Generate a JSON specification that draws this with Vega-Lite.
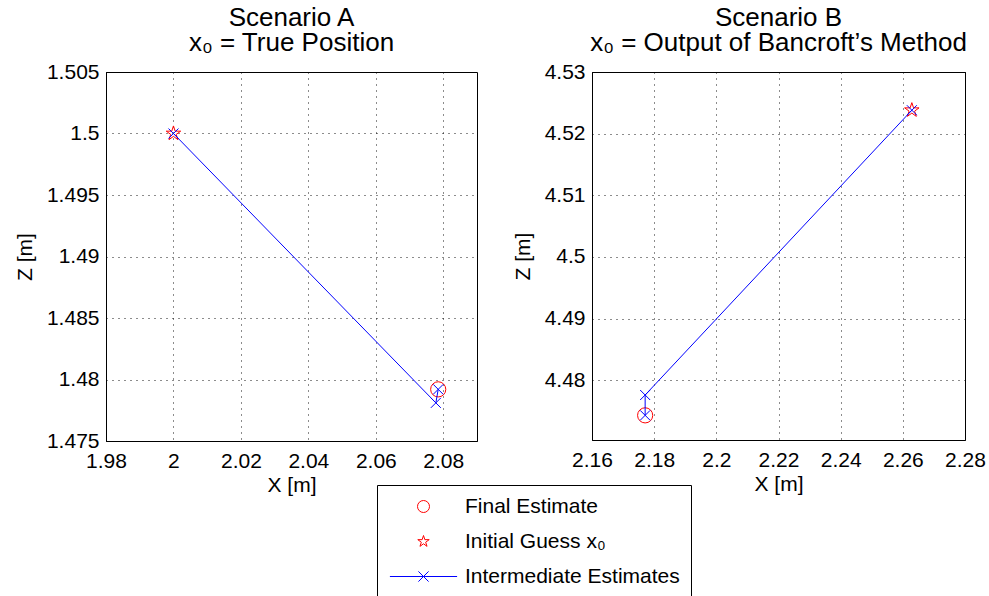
{
  "$schema": "https://vega.github.io/schema/vega-lite/v6.json",
  "background": "white",
  "padding": {"left": 13, "top": 4, "right": 5, "bottom": 0},
  "spacing": 33,
  "config": {
    "font": "Liberation Sans",
    "view": {"stroke": "black", "strokeWidth": 1},
    "axis": {
      "labelFont": "Liberation Sans", "labelFontSize": 21, "labelColor": "black",
      "titleFont": "Liberation Sans", "titleFontSize": 21, "titleFontWeight": "normal", "titleColor": "black",
      "domainColor": "black", "domainWidth": 1, "ticks": false,
      "labelFlush": false, "labelOverlap": false,
      "gridColor": "black", "gridDash": [1, 5], "gridOpacity": 0.9, "gridWidth": 1,
      "labelPadding": 7, "titlePadding": 11
    },
    "axisX": {"labelPadding": 9, "titlePadding": 3},
    "title": {"font": "Liberation Sans", "fontSize": 26, "fontWeight": "normal", "color": "black", "anchor": "middle", "lineHeight": 25, "offset": 5},
    "legend": {
      "orient": "none", "legendX": 271, "legendY": 413,
      "labelFont": "Liberation Sans", "labelFontSize": 21, "labelColor": "black", "labelLimit": 0,
      "strokeColor": "black", "fillColor": "white", "padding": 11, "rowPadding": 13,
      "symbolSize": 144, "symbolStrokeWidth": 1, "symbolOffset": 25, "labelOffset": 31, "cornerRadius": 0
    }
  },
  "datasets": {
    "pointsA": [
      {"x": 2.0785, "z": 1.4792, "series": "Final Estimate"},
      {"x": 2.0, "z": 1.5, "series": "Initial Guess x₀"}
    ],
    "iterA": [
      {"step": 0, "x": 2.0, "z": 1.5},
      {"step": 1, "x": 2.0778, "z": 1.4781},
      {"step": 2, "x": 2.0785, "z": 1.4792}
    ],
    "pointsB": [
      {"x": 2.1771, "z": 4.4743, "series": "Final Estimate"},
      {"x": 2.2629, "z": 4.5238, "series": "Initial Guess x₀"}
    ],
    "iterB": [
      {"step": 0, "x": 2.2629, "z": 4.5238},
      {"step": 1, "x": 2.1771, "z": 4.4776},
      {"step": 2, "x": 2.1771, "z": 4.4743}
    ]
  },
  "hconcat": [
    {
      "width": 371, "height": 369,
      "title": {"text": ["Scenario A", "x₀ = True Position"]},
      "encoding": {
        "x": {"field": "x", "type": "quantitative", "scale": {"domain": [1.98, 2.09], "nice": false, "zero": false},
              "axis": {"title": "X [m]", "values": [1.98, 2, 2.02, 2.04, 2.06, 2.08], "format": "~g"}},
        "y": {"field": "z", "type": "quantitative", "scale": {"domain": [1.475, 1.505], "nice": false, "zero": false},
              "axis": {"title": "Z [m]", "values": [1.475, 1.48, 1.485, 1.49, 1.495, 1.5, 1.505], "format": "~g"}}
      },
      "layer": [
        {
          "data": {"name": "pointsA"},
          "mark": {"type": "point", "filled": false, "size": 230, "strokeWidth": 1, "opacity": 1},
          "encoding": {
            "shape": {"field": "series", "type": "nominal",
                      "scale": {"domain": ["Final Estimate", "Initial Guess x₀", "Intermediate Estimates"],
                                "range": ["circle",
                                          "M0,-1L0.2245,-0.309L0.951,-0.309L0.3633,0.118L0.5878,0.809L0,0.382L-0.5878,0.809L-0.3633,0.118L-0.951,-0.309L-0.2245,-0.309Z",
                                          "M-5.6,0L5.6,0M-0.85,-0.85L0.85,0.85M-0.85,0.85L0.85,-0.85"]},
                      "legend": {"title": null}},
            "color": {"field": "series", "type": "nominal",
                      "scale": {"domain": ["Final Estimate", "Initial Guess x₀", "Intermediate Estimates"],
                                "range": ["#ff0000", "#ff0000", "#0000ff"]},
                      "legend": {"title": null}}
          }
        },
        {
          "data": {"name": "iterA"},
          "mark": {"type": "line", "color": "#0000ff", "strokeWidth": 1},
          "encoding": {"order": {"field": "step", "type": "quantitative"}}
        },
        {
          "data": {"name": "iterA"},
          "mark": {"type": "point", "shape": "M-1,-1L1,1M-1,1L1,-1", "filled": false, "color": "#0000ff", "size": 100, "strokeWidth": 1, "opacity": 1},
          "encoding": {}
        }
      ]
    },
    {
      "width": 373, "height": 368,
      "title": {"text": ["Scenario B", "x₀ = Output of Bancroft’s Method"]},
      "encoding": {
        "x": {"field": "x", "type": "quantitative", "scale": {"domain": [2.16, 2.28], "nice": false, "zero": false},
              "axis": {"title": "X [m]", "values": [2.16, 2.18, 2.2, 2.22, 2.24, 2.26, 2.28], "format": "~g"}},
        "y": {"field": "z", "type": "quantitative", "scale": {"domain": [4.4703, 4.53], "nice": false, "zero": false},
              "axis": {"title": "Z [m]", "values": [4.48, 4.49, 4.5, 4.51, 4.52, 4.53], "format": "~g"}}
      },
      "layer": [
        {
          "data": {"name": "pointsB"},
          "mark": {"type": "point", "filled": false, "size": 230, "strokeWidth": 1, "opacity": 1},
          "encoding": {
            "shape": {"field": "series", "type": "nominal", "legend": {"title": null}},
            "color": {"field": "series", "type": "nominal", "legend": {"title": null}}
          }
        },
        {
          "data": {"name": "iterB"},
          "mark": {"type": "line", "color": "#0000ff", "strokeWidth": 1},
          "encoding": {"order": {"field": "step", "type": "quantitative"}}
        },
        {
          "data": {"name": "iterB"},
          "mark": {"type": "point", "shape": "M-1,-1L1,1M-1,1L1,-1", "filled": false, "color": "#0000ff", "size": 100, "strokeWidth": 1, "opacity": 1},
          "encoding": {}
        }
      ]
    }
  ]
}
